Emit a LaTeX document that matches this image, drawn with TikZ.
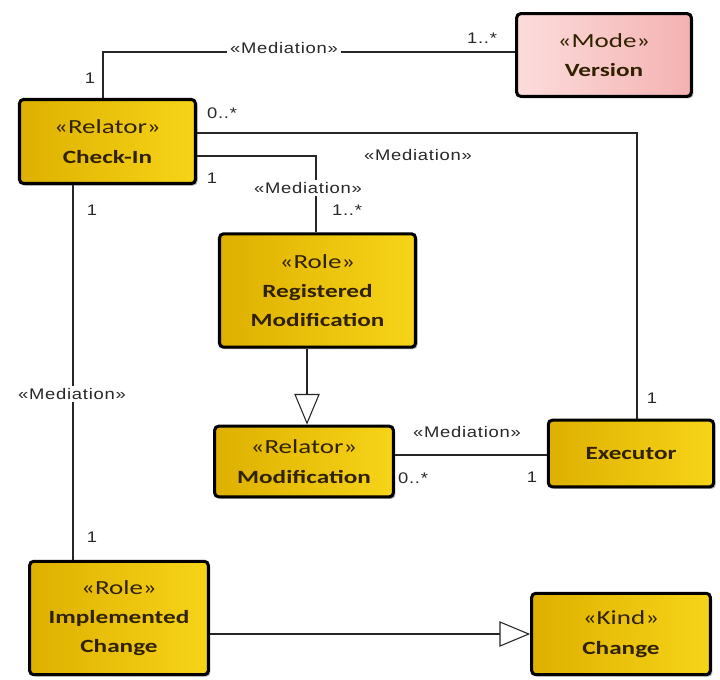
\documentclass[tikz,border=0pt]{standalone}
\usepackage{fontspec}
\newfontfamily\boxfont[FakeStretch=1.35]{Carlito}
\newfontfamily\lblfont[FakeStretch=1.2,LetterSpace=5]{Liberation Sans}
\usetikzlibrary{arrows.meta,shadows}
\definecolor{goldA}{RGB}{222,176,0}
\definecolor{goldB}{RGB}{246,212,24}
\definecolor{pinkA}{RGB}{252,220,220}
\definecolor{pinkB}{RGB}{244,178,178}
\definecolor{txtbrown}{RGB}{48,34,0}
\definecolor{lblgray}{RGB}{40,40,40}
\newcommand\stereo[1]{{\fontsize{15}{22}\selectfont #1}}
\tikzset{
  umlbox/.style={draw=black, line width=2.3pt, rounded corners=3pt,
    left color=goldA, right color=goldB, align=center, inner sep=0pt,
    font=\boxfont\fontsize{14}{22}\selectfont, text=txtbrown,
    drop shadow={shadow xshift=1.5pt, shadow yshift=-1.5pt, opacity=0.3, fill=black}},
  modebox/.style={umlbox, left color=pinkA, right color=pinkB},
  conn/.style={draw=black!85, line width=0.9pt},
  lbl/.style={font=\lblfont\fontsize{11.5}{13}\selectfont, text=lblgray, inner sep=1pt},
  lblw/.style={lbl, fill=white, inner sep=2pt},
  gen/.style={conn, -{Triangle[length=23pt, width=19pt, line width=0.8pt, fill=white]}},
}
\begin{document}
\begin{tikzpicture}[x=0.75pt, y=-0.75pt]
\useasboundingbox (0,0) rectangle (720,679);
\fill[white] (0,0) rectangle (720,679);

% boxes
\node[modebox, minimum width=131pt, minimum height=62pt] (ver) at (604,55)
  {\stereo{«Mode»}\\\textbf{Version}};
\node[umlbox, minimum width=132pt, minimum height=63pt] (chk) at (107.5,141.5)
  {\stereo{«Relator»}\\\textbf{Check-In}};
\node[umlbox, minimum width=147pt, minimum height=85pt] (reg) at (317.5,290.5)
  {\stereo{«Role»}\\\textbf{Registered}\\\textbf{Modification}};
\node[umlbox, minimum width=134pt, minimum height=53pt] (mod) at (304,461.5)
  {\stereo{«Relator»}\\\textbf{Modification}};
\node[umlbox, minimum width=124pt, minimum height=50pt] (exe) at (631,453.5)
  {\textbf{Executor}};
\node[umlbox, minimum width=134pt, minimum height=85pt] (imp) at (119,618)
  {\stereo{«Role»}\\\textbf{Implemented}\\\textbf{Change}};
\node[umlbox, minimum width=134pt, minimum height=61pt] (chg) at (621,634)
  {\stereo{«Kind»}\\\textbf{Change}};

% bend points
\coordinate (b1) at (103,52);
\coordinate (b2) at (637,133);
\coordinate (b3) at (316,156);
\coordinate (b4) at (73,0);
\coordinate (b5) at (307,0);
\coordinate (b6) at (0,455);
\coordinate (b7) at (0,634);

% Check-In -- Version
\draw[conn] (chk.north -| b1) -- (b1) -- (ver.west |- b1);
\node[lblw] (m1) at (284,48) {«Mediation»};
\node[lbl] (c1a) at (90,78) {1};
\node[lbl] (c1b) at (482,38) {1..*};

% Check-In -- Executor
\draw[conn] (chk.east |- b2) -- (b2) -- (exe.north -| b2);
\node[lbl] (m2) at (418,155) {«Mediation»};
\node[lbl] (c2a) at (222,113) {0..*};
\node[lbl] (c2b) at (652,398) {1};

% Check-In -- Registered Modification
\draw[conn] (chk.east |- b3) -- (b3) -- (reg.north -| b3);
\node[lblw] (m3) at (308,188) {«Mediation»};
\node[lbl] (c3a) at (212,178) {1};
\node[lbl] (c3b) at (347,210) {1..*};

% Check-In -- Implemented Change
\draw[conn] (chk.south -| b4) -- (imp.north -| b4);
\node[lblw] (m4) at (72,394) {«Mediation»};
\node[lbl] (c4a) at (92,210) {1};
\node[lbl] (c4b) at (92,537) {1};

% Registered Modification -> Modification (generalization)
\draw[gen] (reg.south -| b5) -- (mod.north -| b5);

% Modification -- Executor
\draw[conn] (mod.east |- b6) -- (exe.west |- b6);
\node[lbl] (m5) at (467,432) {«Mediation»};
\node[lbl] (c5a) at (413,478) {0..*};
\node[lbl] (c5b) at (532,477) {1};

% Implemented Change -> Change (generalization)
\draw[gen] (imp.east |- b7) -- (chg.west |- b7);
\end{tikzpicture}
\end{document}
